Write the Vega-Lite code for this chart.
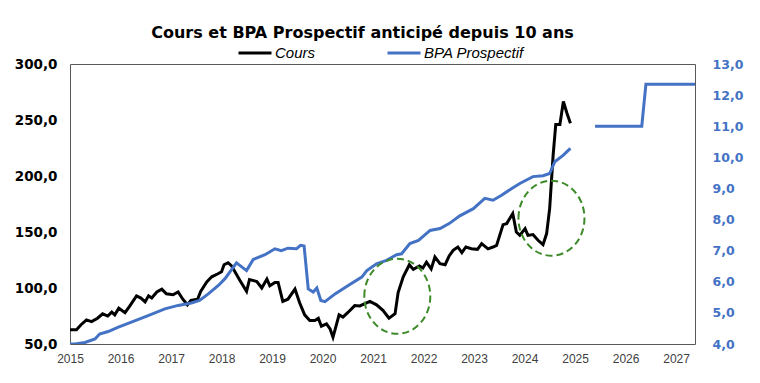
{
  "$schema": "https://vega.github.io/schema/vega-lite/v6.json",
  "autosize": {"type": "none"},
  "width": 625,
  "height": 280,
  "padding": {"left": 70, "top": 64, "right": 65, "bottom": 39},
  "background": "white",
  "title": {"text": "Cours et BPA Prospectif anticipé depuis 10 ans", "font": "DejaVu Sans", "fontSize": 16, "fontWeight": "bold", "color": "#000000", "anchor": "middle", "offset": -6, "dx": -20},
  "config": {
    "view": {"stroke": "#595959", "strokeWidth": 1},
    "font": "Liberation Sans"
  },
  "datasets": {
    "cours": [
      {"date": "2015-01-01", "value": 62.8}, {"date": "2015-02-17", "value": 62.8}, {"date": "2015-03-20", "value": 67}, {"date": "2015-04-30", "value": 71.5},
      {"date": "2015-06-06", "value": 70}, {"date": "2015-07-19", "value": 73}, {"date": "2015-08-25", "value": 77}, {"date": "2015-10-01", "value": 75},
      {"date": "2015-10-30", "value": 78.5}, {"date": "2015-11-21", "value": 76}, {"date": "2015-12-20", "value": 82}, {"date": "2016-02-03", "value": 78},
      {"date": "2016-03-09", "value": 84}, {"date": "2016-04-26", "value": 93}, {"date": "2016-05-28", "value": 91}, {"date": "2016-06-27", "value": 87.6},
      {"date": "2016-07-22", "value": 93}, {"date": "2016-08-14", "value": 91}, {"date": "2016-09-20", "value": 96.5}, {"date": "2016-10-26", "value": 99},
      {"date": "2016-11-28", "value": 94.8}, {"date": "2017-01-15", "value": 94}, {"date": "2017-02-21", "value": 96.5}, {"date": "2017-03-27", "value": 90},
      {"date": "2017-04-29", "value": 85}, {"date": "2017-05-25", "value": 89}, {"date": "2017-07-12", "value": 90}, {"date": "2017-08-03", "value": 97},
      {"date": "2017-09-16", "value": 105.5}, {"date": "2017-10-22", "value": 110}, {"date": "2017-12-06", "value": 112.7}, {"date": "2018-01-01", "value": 114.5},
      {"date": "2018-01-19", "value": 120.8}, {"date": "2018-02-17", "value": 122.6}, {"date": "2018-03-13", "value": 120}, {"date": "2018-04-08", "value": 114.5},
      {"date": "2018-05-14", "value": 106.7}, {"date": "2018-07-01", "value": 97}, {"date": "2018-07-22", "value": 107.6}, {"date": "2018-09-13", "value": 105.8},
      {"date": "2018-10-19", "value": 100}, {"date": "2018-11-25", "value": 108}, {"date": "2018-12-16", "value": 102}, {"date": "2019-01-22", "value": 105},
      {"date": "2019-02-14", "value": 105}, {"date": "2019-03-20", "value": 88}, {"date": "2019-04-26", "value": 90}, {"date": "2019-06-16", "value": 99},
      {"date": "2019-07-19", "value": 87}, {"date": "2019-08-25", "value": 76}, {"date": "2019-10-01", "value": 71}, {"date": "2019-11-07", "value": 71},
      {"date": "2019-12-02", "value": 73}, {"date": "2019-12-24", "value": 65.9}, {"date": "2020-01-30", "value": 68}, {"date": "2020-02-25", "value": 63.4},
      {"date": "2020-03-17", "value": 56}, {"date": "2020-04-30", "value": 76}, {"date": "2020-05-28", "value": 74}, {"date": "2020-07-05", "value": 78.4},
      {"date": "2020-08-21", "value": 84.3}, {"date": "2020-09-27", "value": 84}, {"date": "2020-11-03", "value": 86}, {"date": "2020-12-09", "value": 88},
      {"date": "2021-01-26", "value": 85}, {"date": "2021-03-13", "value": 80}, {"date": "2021-04-26", "value": 73}, {"date": "2021-06-09", "value": 77},
      {"date": "2021-07-01", "value": 96}, {"date": "2021-08-07", "value": 110}, {"date": "2021-09-20", "value": 120.8}, {"date": "2021-10-19", "value": 116.6},
      {"date": "2021-12-02", "value": 119.6}, {"date": "2021-12-27", "value": 117.8}, {"date": "2022-01-22", "value": 123}, {"date": "2022-02-25", "value": 117},
      {"date": "2022-03-24", "value": 127.7}, {"date": "2022-04-30", "value": 121.7}, {"date": "2022-06-06", "value": 120.8}, {"date": "2022-07-05", "value": 128.6},
      {"date": "2022-08-03", "value": 133.6}, {"date": "2022-09-06", "value": 136.6}, {"date": "2022-10-05", "value": 131.5}, {"date": "2022-11-03", "value": 136.6},
      {"date": "2022-12-13", "value": 135}, {"date": "2023-01-26", "value": 134.5}, {"date": "2023-02-25", "value": 139.6}, {"date": "2023-04-12", "value": 135},
      {"date": "2023-05-18", "value": 136.6}, {"date": "2023-06-13", "value": 138}, {"date": "2023-07-30", "value": 156.6}, {"date": "2023-08-25", "value": 157.5},
      {"date": "2023-10-08", "value": 166.5}, {"date": "2023-11-03", "value": 150}, {"date": "2023-11-28", "value": 147}, {"date": "2024-01-05", "value": 153},
      {"date": "2024-01-26", "value": 147}, {"date": "2024-03-02", "value": 147.7}, {"date": "2024-04-08", "value": 142.6}, {"date": "2024-05-14", "value": 138.7},
      {"date": "2024-06-09", "value": 148.6}, {"date": "2024-07-01", "value": 171}, {"date": "2024-07-26", "value": 218.7}, {"date": "2024-08-14", "value": 246},
      {"date": "2024-09-13", "value": 246}, {"date": "2024-10-08", "value": 266.6}, {"date": "2024-11-03", "value": 256}, {"date": "2024-11-28", "value": 247}
    ],
    "bpa": [
      {"date": "2015-01-01", "value": 4.0, "seg": "h"}, {"date": "2015-02-06", "value": 4.0, "seg": "h"}, {"date": "2015-04-19", "value": 4.05, "seg": "h"},
      {"date": "2015-07-01", "value": 4.16, "seg": "h"}, {"date": "2015-08-03", "value": 4.32, "seg": "h"}, {"date": "2015-10-04", "value": 4.4, "seg": "h"},
      {"date": "2015-12-17", "value": 4.54, "seg": "h"}, {"date": "2016-03-20", "value": 4.7, "seg": "h"}, {"date": "2016-07-19", "value": 4.91, "seg": "h"},
      {"date": "2016-11-17", "value": 5.13, "seg": "h"}, {"date": "2017-02-21", "value": 5.24, "seg": "h"}, {"date": "2017-05-28", "value": 5.32, "seg": "h"},
      {"date": "2017-07-26", "value": 5.4, "seg": "h"}, {"date": "2017-09-27", "value": 5.61, "seg": "h"}, {"date": "2017-12-09", "value": 5.88, "seg": "h"},
      {"date": "2018-01-26", "value": 6.1, "seg": "h"}, {"date": "2018-04-19", "value": 6.61, "seg": "h"}, {"date": "2018-07-01", "value": 6.36, "seg": "h"},
      {"date": "2018-08-18", "value": 6.72, "seg": "h"}, {"date": "2018-11-11", "value": 6.87, "seg": "h"}, {"date": "2019-01-22", "value": 7.06, "seg": "h"},
      {"date": "2019-03-09", "value": 7.0, "seg": "h"}, {"date": "2019-04-26", "value": 7.08, "seg": "h"}, {"date": "2019-06-27", "value": 7.06, "seg": "h"},
      {"date": "2019-07-26", "value": 7.17, "seg": "h"}, {"date": "2019-08-21", "value": 7.15, "seg": "h"}, {"date": "2019-09-20", "value": 5.77, "seg": "h"},
      {"date": "2019-10-26", "value": 5.67, "seg": "h"}, {"date": "2019-11-21", "value": 5.8, "seg": "h"}, {"date": "2019-12-20", "value": 5.4, "seg": "h"},
      {"date": "2020-01-19", "value": 5.36, "seg": "h"}, {"date": "2020-04-01", "value": 5.61, "seg": "h"}, {"date": "2020-07-05", "value": 5.88, "seg": "h"},
      {"date": "2020-10-11", "value": 6.15, "seg": "h"}, {"date": "2020-11-17", "value": 6.36, "seg": "h"}, {"date": "2021-01-26", "value": 6.58, "seg": "h"},
      {"date": "2021-04-08", "value": 6.69, "seg": "h"}, {"date": "2021-06-20", "value": 6.87, "seg": "h"}, {"date": "2021-07-26", "value": 6.9, "seg": "h"},
      {"date": "2021-09-24", "value": 7.23, "seg": "h"}, {"date": "2021-11-25", "value": 7.33, "seg": "h"}, {"date": "2022-02-17", "value": 7.65, "seg": "h"},
      {"date": "2022-04-30", "value": 7.71, "seg": "h"}, {"date": "2022-07-05", "value": 7.87, "seg": "h"}, {"date": "2022-09-20", "value": 8.12, "seg": "h"},
      {"date": "2022-12-27", "value": 8.35, "seg": "h"}, {"date": "2023-03-20", "value": 8.68, "seg": "h"}, {"date": "2023-05-18", "value": 8.62, "seg": "h"},
      {"date": "2023-07-19", "value": 8.78, "seg": "h"}, {"date": "2023-10-01", "value": 9.0, "seg": "h"}, {"date": "2023-11-28", "value": 9.16, "seg": "h"},
      {"date": "2024-03-02", "value": 9.38, "seg": "h"}, {"date": "2024-05-14", "value": 9.41, "seg": "h"}, {"date": "2024-07-01", "value": 9.48, "seg": "h"},
      {"date": "2024-08-07", "value": 9.86, "seg": "h"}, {"date": "2024-10-08", "value": 10.07, "seg": "h"}, {"date": "2024-11-28", "value": 10.29, "seg": "h"},
      {"date": "2025-05-25", "value": 11.0, "seg": "f"}, {"date": "2026-04-28", "value": 11.0, "seg": "f"}, {"date": "2026-05-28", "value": 12.35, "seg": "f"},
      {"date": "2027-05-18", "value": 12.35, "seg": "f"}
    ],
    "cercles": [
      {"date": "2021-06-25", "value": 92.6},
      {"date": "2024-07-14", "value": 162.3}
    ]
  },
  "layer": [
    {
      "data": {"name": "cours"},
      "mark": {"type": "line", "strokeWidth": 3, "clip": true},
      "encoding": {
        "x": {"field": "date", "type": "temporal", "scale": {"domain": ["2015-01-01", "2027-05-18"]},
          "axis": {"title": null, "format": "%Y", "tickCount": {"interval": "year", "step": 1}, "ticks": false, "domain": false, "grid": false, "labelFlush": false, "labelFontSize": 12, "labelColor": "#404040", "labelPadding": 9, "labelFont": "Liberation Sans"}},
        "y": {"field": "value", "type": "quantitative", "scale": {"domain": [50, 300], "nice": false},
          "axis": {"title": null, "values": [50, 100, 150, 200, 250, 300], "labelExpr": "replace(format(datum.value, '.1f'), '.', ',')", "ticks": false, "domain": false, "grid": false, "labelFontSize": 13.5, "labelFontWeight": "bold", "labelColor": "#000000", "labelPadding": 13, "labelFont": "DejaVu Sans"}},
        "color": {"datum": "Cours", "type": "nominal",
          "scale": {"domain": ["Cours", "BPA Prospectif"], "range": ["#000000", "#4472C4"]},
          "legend": {"orient": "none", "legendX": 167, "legendY": -29, "direction": "horizontal", "title": null, "symbolType": "stroke", "symbolStrokeWidth": 3, "symbolSize": 1089, "labelFontStyle": "italic", "labelFont": "Liberation Sans", "labelFontSize": 15, "labelColor": "#000000", "columnPadding": 65, "labelOffset": 2, "padding": 0}}
      }
    },
    {
      "data": {"name": "bpa"},
      "mark": {"type": "line", "strokeWidth": 3, "clip": true},
      "encoding": {
        "x": {"field": "date", "type": "temporal"},
        "y": {"field": "value", "type": "quantitative", "scale": {"domain": [4, 13], "nice": false},
          "axis": {"title": null, "orient": "right", "values": [4, 5, 6, 7, 8, 9, 10, 11, 12, 13], "labelExpr": "replace(format(datum.value, '.1f'), '.', ',')", "ticks": false, "domain": false, "grid": false, "labelFontSize": 12.5, "labelFontWeight": "bold", "labelColor": "#4472C4", "labelPadding": 17, "labelFont": "DejaVu Sans"}},
        "detail": {"field": "seg", "type": "nominal"},
        "color": {"datum": "BPA Prospectif", "type": "nominal"}
      }
    },
    {
      "data": {"name": "cercles"},
      "mark": {"type": "point", "shape": "M -0.88 0 A 0.88 1 0 1 1 0.88 0 A 0.88 1 0 1 1 -0.88 0 Z", "size": 5625, "filled": false, "stroke": "#3C8A28", "strokeWidth": 2, "strokeDash": [7, 4], "opacity": 1},
      "encoding": {
        "x": {"field": "date", "type": "temporal"},
        "y": {"field": "value", "type": "quantitative", "scale": {"domain": [50, 300], "nice": false}, "axis": null}
      }
    }
  ],
  "resolve": {"scale": {"y": "independent"}}
}
